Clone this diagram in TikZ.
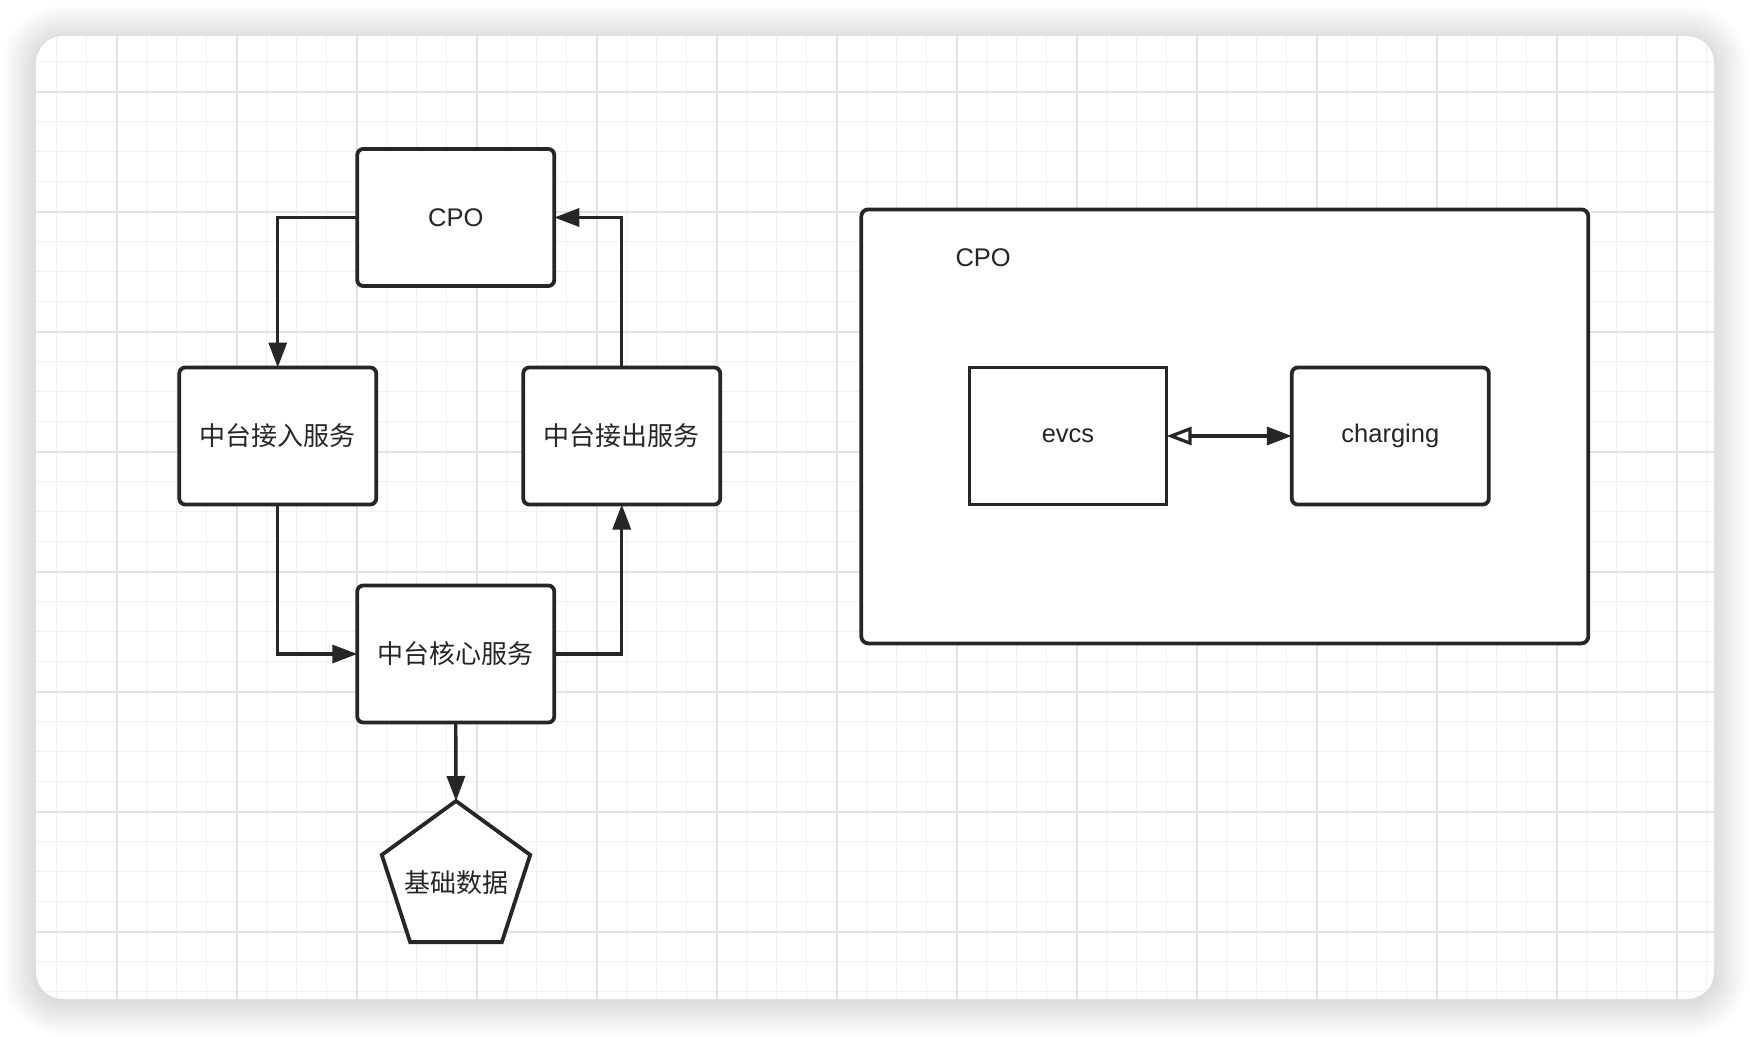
\documentclass[tikz,border=0pt]{standalone}
\usepackage{fontspec}
\setmainfont{Liberation Sans}
\newfontfamily\cjk{Noto Sans CJK SC}
\usetikzlibrary{arrows.meta,shapes.geometric}
\definecolor{ink}{HTML}{262626}
\definecolor{gridminor}{HTML}{F0F0F0}
\definecolor{gridmajor}{HTML}{E3E3E3}
\begin{document}
\begin{tikzpicture}[x=1pt,y=-1pt,
  cjktext/.style={font=\cjk\fontsize{26}{30}\selectfont, text=ink},
  lattext/.style={font=\fontsize{25.5}{30}\selectfont, text=ink},
  box/.style={draw=ink, line width=3.8pt, fill=white, rounded corners=6pt,
    minimum width=197pt, minimum height=137pt, inner sep=0pt, outer sep=0pt},
  sharpbox/.style={box, rounded corners=0pt},
  pent/.style={draw=ink, line width=3.8pt, fill=white, regular polygon,
    regular polygon sides=5, minimum size=156pt, inner sep=0pt, outer sep=0pt},
  frame/.style={draw=ink, line width=3.8pt, fill=white, rounded corners=7pt,
    minimum width=727pt, minimum height=434pt, inner sep=0pt, outer sep=0pt},
  arr/.style={draw=ink, line width=3.4pt, -{Triangle[length=25pt,width=18pt]}},
  dblarr/.style={draw=ink, line width=3.4pt,
    {Triangle[open,length=25pt,width=18pt,line width=3.2pt]}-{Triangle[length=25pt,width=18pt]}},
  minorline/.style={draw=gridminor, line width=1.3pt},
  majorline/.style={draw=gridmajor, line width=1.8pt},
  shadowlayer/.style={fill=black, fill opacity=0.0052}
]
\useasboundingbox (0,0) rectangle (1750,1036);
\fill[white] (0,0) rectangle (1750,1036);
% soft shadow of the card
\foreach \i in {34,33,...,1} {
  \fill[shadowlayer, rounded corners=27pt+\i pt]
    (36-\i,36-\i+3) rectangle (1714+\i,999+\i+3);
}
% card
\fill[white, rounded corners=27pt] (36,36) rectangle (1714,999);
\begin{scope}
  \clip[rounded corners=27pt] (36,36) rectangle (1714,999);
  \foreach \k in {1,...,56} {
    \pgfmathsetmacro{\xx}{26.7+30*\k}
    \draw[minorline] (\xx,36) -- (\xx,999);
  }
  \foreach \k in {1,...,32} {
    \pgfmathsetmacro{\yy}{31.7+30*\k}
    \draw[minorline] (36,\yy) -- (1714,\yy);
  }
  \foreach \k in {0,...,13} {
    \pgfmathsetmacro{\xx}{116.7+120*\k}
    \draw[majorline] (\xx,36) -- (\xx,999);
  }
  \foreach \k in {0,...,7} {
    \pgfmathsetmacro{\yy}{91.7+120*\k}
    \draw[majorline] (36,\yy) -- (1714,\yy);
  }
\end{scope}

% left flow
\node[box, lattext] (cpo) at (455.75,217.5) {CPO};
\node[box, cjktext] (inb) at (277.75,436) {中台接入服务};
\node[box, cjktext] (outb) at (621.75,436) {中台接出服务};
\node[box, cjktext] (core) at (455.75,654) {中台核心服务};
\node[pent] (base) at (456,879) {};
\node[cjktext] (basetext) at (456,883) {基础数据};

\draw[arr] (cpo.west) -| (inb.north);
\draw[arr] (outb.north) |- (cpo.east);
\draw[arr] (inb.south) |- (core.west);
\draw[arr] (core.east) -| (outb.south);
\draw[arr] (core.south) -- (base.corner 1);

% right container
\node[frame] (cont) at (1224.8,426.4) {};
\node[lattext, anchor=west] (contlabel) at (952,258) {CPO};
\node[sharpbox, lattext] (evcs) at (1068,436) {evcs};
\node[box, lattext] (chg) at (1390.3,436) {charging};
\draw[dblarr] (evcs.east) -- (chg.west);
\end{tikzpicture}
\end{document}
